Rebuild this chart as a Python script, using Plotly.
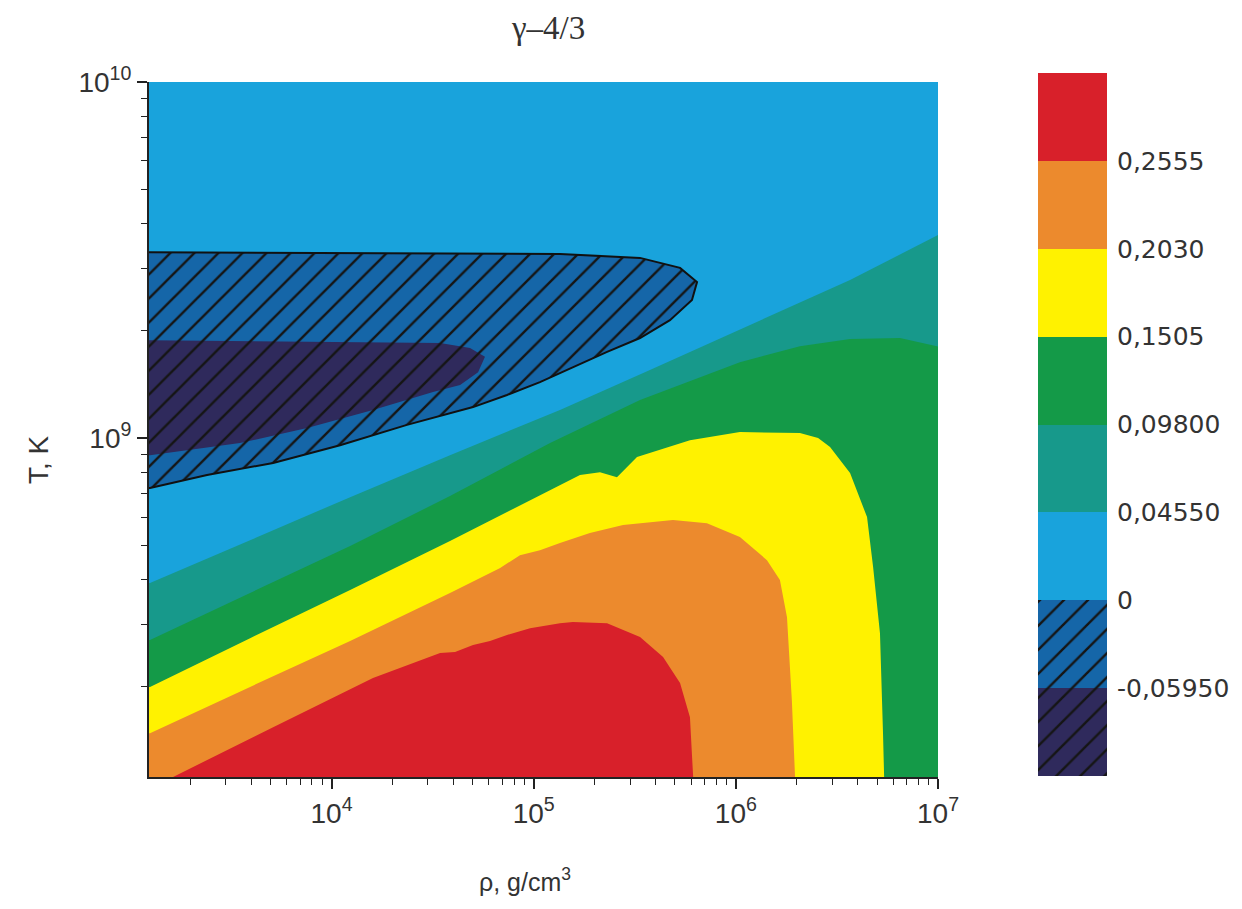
import plotly.graph_objects as go

# ---------------- data (log10 rho [g/cm3], log10 T [K]) ----------------
rho_log_range = [3.097, 7.0]
T_log_range = [8.048, 10.0]

x_major_vals = [1e4, 1e5, 1e6, 1e7]
x_major_text = ["10<sup>4</sup>", "10<sup>5</sup>", "10<sup>6</sup>", "10<sup>7</sup>"]
y_major_vals = [1e9, 1e10]
y_major_text = ["10<sup>9</sup>", "10<sup>10</sup>"]

level_values = [-0.0595, 0.0, 0.0455, 0.098, 0.1505, 0.203, 0.2555]
level_labels = ["-0,05950", "0", "0,04550", "0,09800", "0,1505", "0,2030", "0,2555"]

# boundary gamma-4/3 = 0.0455 (light blue above / teal below)
b1_lr = [3.00, 3.102, 3.597, 4.092, 4.586, 5.130, 5.575, 6.070, 6.565, 7.000, 7.30, 7.30, 2.80]
b1_lt = [8.593, 8.593, 8.713, 8.834, 8.952, 9.079, 9.191, 9.317, 9.444, 9.570, 9.60, 7.80, 7.80]

# boundary 0.098 (teal / green)
b2_lr = [3.00, 3.102, 3.597, 4.092, 4.586, 5.081, 5.526, 6.020, 6.317, 6.565, 6.812, 7.010, 7.30, 7.30, 2.80]
b2_lt = [8.433, 8.433, 8.565, 8.697, 8.837, 8.986, 9.107, 9.213, 9.258, 9.278, 9.281, 9.256, 9.24, 7.80, 7.80]

# boundary 0.1505 (green / yellow)
b3_lr = [3.00, 3.102, 3.597, 4.092, 4.586, 5.031, 5.229, 5.328, 5.412, 5.511, 5.773, 6.020, 6.317,
         6.407, 6.466, 6.565, 6.649, 6.679, 6.713, 6.728, 6.738, 2.80]
b3_lt = [8.301, 8.301, 8.438, 8.573, 8.711, 8.840, 8.896, 8.904, 8.890, 8.947, 8.994, 9.017, 9.014,
         9.000, 8.975, 8.902, 8.778, 8.638, 8.452, 8.171, 7.95, 7.80]

# boundary 0.203 (yellow / orange)
b4_lr = [3.00, 3.102, 3.597, 4.092, 4.586, 4.834, 4.932, 5.031, 5.130, 5.278, 5.442, 5.689, 5.857,
         6.020, 6.154, 6.218, 6.253, 6.277, 6.300, 2.80]
b4_lt = [8.171, 8.171, 8.301, 8.430, 8.565, 8.635, 8.671, 8.685, 8.705, 8.733, 8.756, 8.770, 8.761,
         8.722, 8.657, 8.601, 8.497, 8.264, 7.95, 7.80]

# boundary 0.2555 (orange / red)
b5_lr = [3.18, 3.216, 3.711, 4.205, 4.537, 4.611, 4.700, 4.784, 4.868, 4.982, 5.130, 5.194, 5.363,
         5.526, 5.640, 5.724, 5.773, 5.798]
b5_lt = [7.95, 8.048, 8.188, 8.326, 8.396, 8.399, 8.419, 8.430, 8.447, 8.466, 8.480, 8.483, 8.480,
         8.441, 8.385, 8.312, 8.216, 7.95]

# boundary 0 (negative region, hatched)
b0_lr = [3.00, 5.130, 5.526, 5.724, 5.808, 5.783, 5.674, 5.526, 5.363, 5.204, 5.031, 4.868, 4.700,
         4.373, 4.042, 3.711, 3.384, 3.102, 3.00]
b0_lt = [9.522, 9.517, 9.506, 9.478, 9.438, 9.388, 9.331, 9.281, 9.242, 9.202, 9.157, 9.121, 9.087,
         9.037, 8.980, 8.930, 8.896, 8.860, 8.855]

# boundary -0.0595 (dark region)
bn_lr = [3.00, 4.537, 4.685, 4.759, 4.725, 4.636, 4.502, 4.205, 3.879, 3.547, 3.102, 3.00]
bn_lt = [9.275, 9.267, 9.253, 9.228, 9.185, 9.149, 9.129, 9.079, 9.028, 8.986, 8.952, 8.95]

# colours: below -0.0595, -0.0595..0, 0..0.0455, ..., above 0.2555
band_colors = ["#2f2a5c", "#1566a8", "#19a3dc", "#17998b", "#149a48", "#fff200", "#ec8a2d", "#d8202a"]
n_hatched = 2  # the two negative bands are hatched

x_minor_vals = [m * 10 ** e for e in (3, 4, 5, 6) for m in range(2, 10)]
y_minor_vals = [m * 10 ** e for e in (8, 9) for m in range(2, 10)]

# ---------------- page geometry (the page body has an 8 px margin) ----------------
W, H, OFF = 1234, 901, 8


def X(px):
    return (px - OFF) / W


def Y(py):
    return 1 - (py - OFF) / H


# ---------------- figure ----------------
fig = go.Figure()


def pw(v):
    return [10 ** a for a in v]


def region(lr, lt, color):
    fig.add_trace(go.Scatter(
        x=pw(lr), y=pw(lt), mode="lines", fill="toself", fillcolor=color,
        line=dict(width=0, color=color), hoverinfo="skip", showlegend=False,
        xaxis="x", yaxis="y"))


region(b1_lr, b1_lt, band_colors[3])
region(b2_lr, b2_lt, band_colors[4])
region(b3_lr, b3_lt, band_colors[5])
region(b4_lr, b4_lt, band_colors[6])
region(b5_lr, b5_lt, band_colors[7])
region(b0_lr, b0_lt, band_colors[1])
region(bn_lr, bn_lt, band_colors[0])

hatch = dict(shape="/", fillmode="replace", bgcolor="rgba(0,0,0,0)", fgcolor="#151515",
             fgopacity=1, size=17, solidity=0.14)

# hatching + outline of the negative region
fig.add_trace(go.Scatter(
    x=pw(b0_lr), y=pw(b0_lt), mode="lines", fill="toself",
    fillcolor="rgba(0,0,0,0)", fillpattern=hatch,
    line=dict(width=2, color="#111111"), hoverinfo="skip", showlegend=False,
    xaxis="x", yaxis="y"))

# colour bar made of stacked bars
n = len(band_colors)
fig.add_trace(go.Bar(
    x=[0] * n, y=[1] * n, base=list(range(n)), width=1,
    marker=dict(color=band_colors, line=dict(width=0)),
    hoverinfo="skip", showlegend=False, xaxis="x2", yaxis="y2"))
fig.add_trace(go.Bar(
    x=[0], y=[n_hatched], base=[0], width=1,
    marker=dict(color="rgba(0,0,0,0)", line=dict(width=0), pattern=hatch),
    hoverinfo="skip", showlegend=False, xaxis="x2", yaxis="y2"))

tick_font = dict(family="Liberation Sans, Arial, sans-serif", size=28, color="#333333")

fig.update_layout(
    width=W, height=H,
    margin=dict(l=0, r=0, t=0, b=0, pad=0, autoexpand=False),
    paper_bgcolor="white",
    plot_bgcolor=band_colors[2],
    barmode="overlay", bargap=0,
    xaxis=dict(
        type="log", range=rho_log_range, domain=[X(149), X(938)], anchor="y",
        tickmode="array", tickvals=x_major_vals, ticktext=x_major_text,
        ticks="outside", ticklen=10, tickwidth=1.5, tickcolor="#222222",
        showline=True, linecolor="#222222", linewidth=2, mirror=False,
        showgrid=False, zeroline=False, tickfont=tick_font, automargin=False,
        minor=dict(tickvals=x_minor_vals, ticks="outside", ticklen=6, tickwidth=1.3,
                   tickcolor="#222222", showgrid=False),
    ),
    yaxis=dict(
        type="log", range=T_log_range, domain=[Y(777), Y(82)], anchor="x",
        tickmode="array", tickvals=y_major_vals, ticktext=y_major_text,
        ticks="outside", ticklen=10, tickwidth=1.5, tickcolor="#222222",
        showline=True, linecolor="#222222", linewidth=2, mirror=False,
        showgrid=False, zeroline=False, tickfont=tick_font, automargin=False,
        minor=dict(tickvals=y_minor_vals, ticks="outside", ticklen=6, tickwidth=1.3,
                   tickcolor="#222222", showgrid=False),
    ),
    xaxis2=dict(
        domain=[X(1038), X(1107)], range=[-0.5, 0.5], anchor="y2",
        visible=False, fixedrange=True,
    ),
    yaxis2=dict(
        domain=[Y(776), Y(73)], range=[0, n], anchor="x2",
        side="right", tickmode="array", tickvals=list(range(1, n)),
        ticktext=level_labels, ticks="", showline=False, showgrid=False, zeroline=False,
        ticklabelstandoff=9, automargin=False,
        tickfont=dict(family="DejaVu Sans, sans-serif", size=25, color="#333333"),
    ),
    annotations=[
        dict(text="γ–4/3", xref="paper", yref="paper", x=X(548), y=Y(28),
             showarrow=False, xanchor="center", yanchor="middle",
             font=dict(family="Liberation Serif, Times New Roman, serif", size=33, color="#333333")),
        dict(text="T, K", xref="paper", yref="paper", x=X(38), y=Y(460),
             showarrow=False, textangle=-90, xanchor="center", yanchor="middle",
             font=dict(family="Liberation Sans, Arial, sans-serif", size=28, color="#333333")),
        dict(text="ρ, g/cm<sup>3</sup>", xref="paper", yref="paper", x=X(525), y=Y(880),
             showarrow=False, xanchor="center", yanchor="middle",
             font=dict(family="Liberation Sans, Arial, sans-serif", size=25, color="#333333")),
    ],
)

fig.write_html("out.html")
